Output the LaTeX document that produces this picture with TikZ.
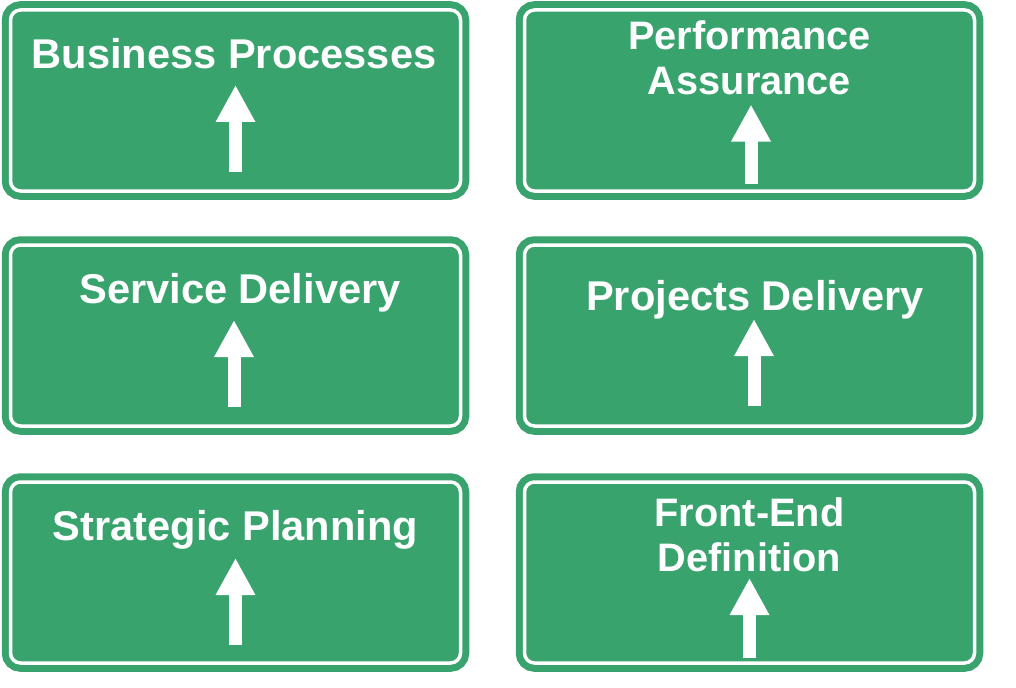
\documentclass[tikz,border=0pt]{standalone}
\usepackage{fontspec}
\setmainfont{Liberation Sans}
\usetikzlibrary{arrows.meta,positioning}
\definecolor{SignGreen}{HTML}{38A36C}
\newdimen\pxu \pxu=0.75pt
\tikzset{
  signbox/.style={fill=SignGreen,draw=SignGreen,double=white,double distance=3.5\pxu,line width=7\pxu,rounded corners=10\pxu,minimum width=450\pxu,minimum height=181\pxu,inner sep=0pt,outer sep=0pt},
  signtext/.style={text=white,font=\bfseries\fontsize{31.2}{34}\selectfont,align=center,inner sep=0pt},
  signtwo/.style={signtext,font=\bfseries\fontsize{29.8}{33.75}\selectfont},
  signarrow/.style={-{Triangle[length=27.75pt,width=27.75pt]},line width=9.75pt,draw=white}
}
\begin{document}
\begin{tikzpicture}[x=\pxu,y=\pxu,node distance=54\pxu and 64\pxu]
\useasboundingbox (0,0) rectangle (1016,687);
% signs
\node[signbox] (bp) at (235.5,586.5) {};
\node[signbox,right=of bp] (pa) {};
\node[signbox,below=of bp] (sd) {};
\node[signbox,right=of sd] (pd) {};
\node[signbox,below=56\pxu of sd] (sp) {};
\node[signbox,right=of sp] (fe) {};

% captions
\node[signtext,below=28\pxu of bp.north,xshift=-1.5\pxu] (bptxt) {Business Processes};
\node[signtwo,below=10.5\pxu of pa.north] (patxt) {Performance\\Assurance};
\node[signtext,below=28\pxu of sd.north,xshift=4.5\pxu] (sdtxt) {Service Delivery};
\node[signtext,below=35\pxu of pd.north,xshift=5.5\pxu] (pdtxt) {Projects Delivery};
\node[signtext,below=28\pxu of sp.north] (sptxt) {Strategic Planning};
\node[signtwo,below=15\pxu of fe.north] (fetxt) {Front-End\\Definition};

% arrows
\coordinate[above=19\pxu of bp.south] (bpfoot);
\coordinate[above=87\pxu of bpfoot] (bptip);
\draw[signarrow] (bpfoot) -- (bptip);
\coordinate[above=7.5\pxu of pa.south,xshift=1.5\pxu] (pafoot);
\coordinate[above=79\pxu of pafoot] (patip);
\draw[signarrow] (pafoot) -- (patip);
\coordinate[above=19\pxu of sd.south,xshift=-1.5\pxu] (sdfoot);
\coordinate[above=87\pxu of sdfoot] (sdtip);
\draw[signarrow] (sdfoot) -- (sdtip);
\coordinate[above=20\pxu of pd.south,xshift=4.5\pxu] (pdfoot);
\coordinate[above=87\pxu of pdfoot] (pdtip);
\draw[signarrow] (pdfoot) -- (pdtip);
\coordinate[above=18\pxu of sp.south] (spfoot);
\coordinate[above=87\pxu of spfoot] (sptip);
\draw[signarrow] (spfoot) -- (sptip);
\coordinate[above=5\pxu of fe.south] (fefoot);
\coordinate[above=80\pxu of fefoot] (fetip);
\draw[signarrow] (fefoot) -- (fetip);
\end{tikzpicture}
\end{document}
